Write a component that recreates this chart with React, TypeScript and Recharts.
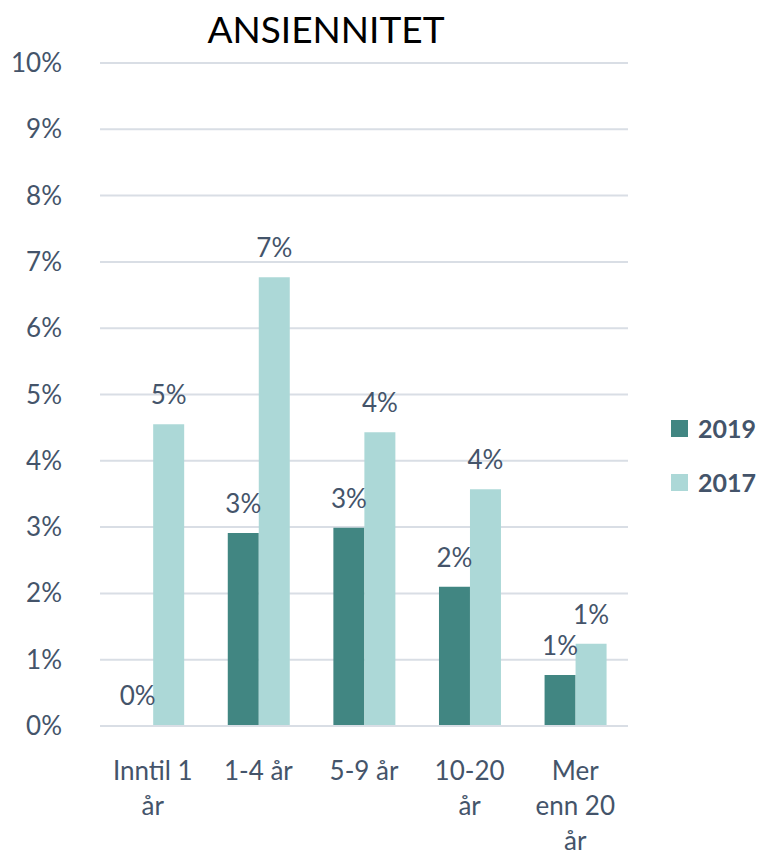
import * as React from "react"
import { BarChart, Bar, XAxis, YAxis, CartesianGrid, Rectangle } from "recharts"

const categories = ["Inntil 1 år", "1-4 år", "5-9 år", "10-20 år", "Mer enn 20 år"]
const categoryLines = [["Inntil 1", "år"], ["1-4 år"], ["5-9 år"], ["10-20", "år"], ["Mer", "enn 20", "år"]]
const values2019 = [0, 2.91, 2.99, 2.1, 0.77]
const values2017 = [4.55, 6.77, 4.43, 3.57, 1.24]
const yTicks = [0, 1, 2, 3, 4, 5, 6, 7, 8, 9, 10]

const series = [
  { key: "y2019", label: "2019", color: "#418682" },
  { key: "y2017", label: "2017", color: "#ACD8D7" },
]

const data = categories.map((name, i) => ({
  name,
  y2019: values2019[i],
  y2017: values2017[i],
}))

const TEXT = "#44546A"
const FONT = "Lato, 'Open Sans', sans-serif"
const FS = 26

function YTick({ x, y, payload }: any) {
  return (
    <text x={x - 30} y={y} dy={9} textAnchor="end" fill={TEXT} fontSize={FS} fontFamily={FONT}>
      {payload.value}%
    </text>
  )
}

function XTick({ x, y, payload, index }: any) {
  const lines = categoryLines[index] || [payload.value]
  return (
    <text x={x} y={y} textAnchor="middle" fill={TEXT} fontSize={FS} fontFamily={FONT}>
      {lines.map((l: string, i: number) => (
        <tspan key={i} x={x} y={y + 46 + i * 35}>
          {l}
        </tspan>
      ))}
    </text>
  )
}

function DataLabel(props: any) {
  const { x, y, width, value } = props
  if (value == null) return null
  const v = Array.isArray(value) ? value[1] : value
  return (
    <text
      x={Number(x) + Number(width) / 2}
      y={Number(y) - 20}
      textAnchor="middle"
      fill={TEXT}
      fontSize={FS}
      fontFamily={FONT}
    >
      {`${Math.round(Number(v))}%`}
    </text>
  )
}

// zero values keep their (hidden) min-size rect so their label still shows
function makeShape(key: string) {
  return (props: any) => {
    if (!props.payload || Number(props.payload[key]) <= 0) return <g />
    return <Rectangle {...props} />
  }
}

export default function App() {
  return (
    <div style={{ position: "absolute", left: 0, top: 0, width: 764, height: 855, background: "#fff" }}>
      <div
        style={{
          position: "absolute",
          left: 0,
          width: 652,
          top: 6,
          textAlign: "center",
          fontFamily: FONT,
          fontSize: 37,
          color: "#000",
        }}
      >
        ANSIENNITET
      </div>
      <div style={{ position: "absolute", left: 671, top: 401, fontFamily: FONT }}>
        {series.map((s) => (
          <div key={s.key} style={{ display: "flex", alignItems: "center", height: 54 }}>
            <div style={{ width: 17, height: 17, background: s.color, marginRight: 10 }} />
            <span style={{ color: TEXT, fontWeight: 700, fontSize: 25 }}>{s.label}</span>
          </div>
        ))}
      </div>
      <BarChart
        width={764}
        height={855}
        data={data}
        margin={{ top: 63, right: 136, left: 0, bottom: 0 }}
        barCategoryGap="21%"
        barGap={0}
      >
        <CartesianGrid vertical={false} stroke="#D9DEE5" strokeWidth={2} />
        <YAxis
          domain={[0, 10]}
          ticks={yTicks}
          width={100}
          axisLine={false}
          tickLine={false}
          tick={<YTick />}
          interval={0}
        />
        <XAxis
          dataKey="name"
          height={129}
          axisLine={{ stroke: "#D9DEE5", strokeWidth: 2 }}
          tickLine={false}
          tick={<XTick />}
          interval={0}
        />
        {series.map((s) => (
          <Bar
            key={s.key}
            dataKey={s.key}
            name={s.label}
            fill={s.color}
            isAnimationActive={false}
            minPointSize={1}
            shape={makeShape(s.key)}
            label={<DataLabel />}
          />
        ))}
      </BarChart>
    </div>
  )
}
